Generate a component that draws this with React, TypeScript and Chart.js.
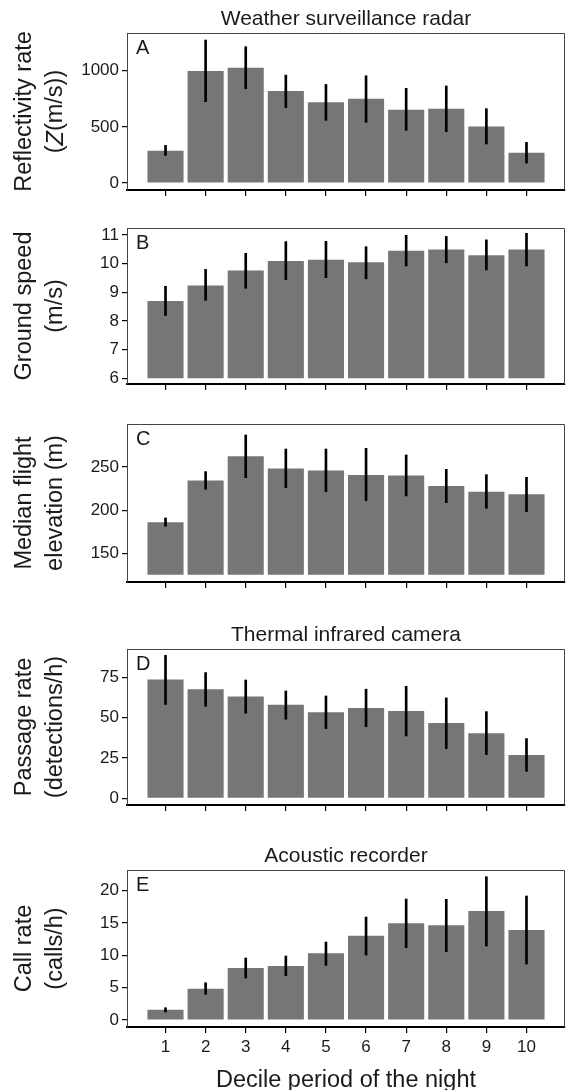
import React, { useEffect, useRef } from 'react';
import { Chart, registerables } from 'chart.js';

Chart.register(...registerables);

// ---------------- data ----------------
const deciles = [1, 2, 3, 4, 5, 6, 7, 8, 9, 10];

const reflectivity = [288, 997, 1027, 819, 718, 751, 653, 662, 504, 270];
const reflectivityLow = [246, 724, 840, 671, 558, 540, 469, 457, 347, 178];
const reflectivityHigh = [335, 1273, 1214, 961, 878, 955, 843, 864, 662, 362];
const reflectivityTicks = [0, 500, 1000];
const reflectivityBase = 0;

const groundSpeed = [8.7, 9.24, 9.76, 10.09, 10.14, 10.05, 10.45, 10.49, 10.29, 10.49];
const groundSpeedLow = [8.19, 8.72, 9.14, 9.44, 9.51, 9.47, 9.92, 10.03, 9.78, 9.92];
const groundSpeedHigh = [9.21, 9.8, 10.36, 10.77, 10.78, 10.59, 10.99, 10.95, 10.83, 11.06];
const groundSpeedTicks = [6, 7, 8, 9, 10, 11];
const groundSpeedBase = 6;

const elevation = [185.9, 234.2, 262.4, 248.1, 245.8, 240.7, 240.0, 228.0, 221.4, 218.3];
const elevationLow = [181.3, 224.1, 237.6, 226.1, 221.4, 211.0, 216.4, 208.7, 202.1, 198.3];
const elevationHigh = [190.9, 244.6, 287.1, 270.8, 270.8, 271.6, 263.9, 247.3, 241.1, 238.0];
const elevationTicks = [150, 200, 250];
const elevationBase = 125;

const passage = [73.6, 67.6, 63.0, 57.9, 53.3, 56.0, 54.1, 46.7, 40.3, 26.9];
const passageLow = [58.1, 57.0, 52.7, 49.0, 43.2, 44.4, 38.6, 30.8, 27.1, 16.7];
const passageHigh = [88.6, 77.9, 73.3, 66.5, 63.4, 67.6, 69.4, 62.2, 53.7, 37.0];
const passageTicks = [0, 25, 50, 75];
const passageBase = 0;

const callRate = [1.6, 4.85, 8.04, 8.35, 10.31, 13.04, 14.95, 14.64, 16.86, 13.92];
const callRateLow = [1.24, 3.97, 6.49, 6.86, 8.45, 10.05, 11.19, 10.57, 11.44, 8.66];
const callRateHigh = [1.9, 5.77, 9.59, 9.9, 12.06, 15.93, 18.71, 18.66, 22.16, 19.18];
const callRateTicks = [0, 5, 10, 15, 20];
const callRateBase = 0;

const xAxisTitle = 'Decile period of the night';

// ---------------- layout / style ----------------
const W = 566;
const H = 1090;
const FONT = '"Liberation Sans", Arial, Helvetica, sans-serif';
const PLOT_LEFT = 127;
const X_MIN = 0.04;
const X_MAX = 10.96;
const X_AXIS_H = 30;
const BAR_COLOR = '#767676';
const TEXT_COLOR = '#1a1a1a';

type Seg = { text: string; italic?: boolean };

type Panel = {
  letter: string;
  title?: string;
  yTitle: Seg[][];
  values: number[];
  low: number[];
  high: number[];
  base: number;
  ticks: number[];
  top: number;
  bottom: number;
  yMin: number;
  yMax: number;
  xLabels: boolean;
};

const panels: Panel[] = [
  {
    letter: 'A',
    title: 'Weather surveillance radar',
    yTitle: [[{ text: 'Reflectivity rate' }], [{ text: '(' }, { text: 'Z', italic: true }, { text: '(m/s))' }]],
    values: reflectivity, low: reflectivityLow, high: reflectivityHigh, base: reflectivityBase,
    ticks: reflectivityTicks, top: 33, bottom: 190, yMin: -62.3, yMax: 1335.7, xLabels: false,
  },
  {
    letter: 'B',
    yTitle: [[{ text: 'Ground speed' }], [{ text: '(m/s)' }]],
    values: groundSpeed, low: groundSpeedLow, high: groundSpeedHigh, base: groundSpeedBase,
    ticks: groundSpeedTicks, top: 228, bottom: 384, yMin: 5.8, yMax: 11.244, xLabels: false,
  },
  {
    letter: 'C',
    yTitle: [[{ text: 'Median flight' }], [{ text: 'elevation (m)' }]],
    values: elevation, low: elevationLow, high: elevationHigh, base: elevationBase,
    ticks: elevationTicks, top: 424, bottom: 582, yMin: 116.7, yMax: 299.8, xLabels: false,
  },
  {
    letter: 'D',
    title: 'Thermal infrared camera',
    yTitle: [[{ text: 'Passage rate' }], [{ text: '(detections/h)' }]],
    values: passage, low: passageLow, high: passageHigh, base: passageBase,
    ticks: passageTicks, top: 649, bottom: 805, yMin: -4.15, yMax: 92.5, xLabels: false,
  },
  {
    letter: 'E',
    title: 'Acoustic recorder',
    yTitle: [[{ text: 'Call rate' }], [{ text: '(calls/h)' }]],
    values: callRate, low: callRateLow, high: callRateHigh, base: callRateBase,
    ticks: callRateTicks, top: 870, bottom: 1027, yMin: -1.08, yMax: 23.2, xLabels: true,
  },
];

function drawRotatedLine(ctx: CanvasRenderingContext2D, segs: Seg[], cx: number, cy: number, size: number) {
  ctx.save();
  ctx.translate(cx, cy);
  ctx.rotate(-Math.PI / 2);
  const fonts = segs.map((s) => `${s.italic ? 'italic ' : ''}${size}px ${FONT}`);
  let total = 0;
  const widths = segs.map((s, i) => {
    ctx.font = fonts[i];
    const w = ctx.measureText(s.text).width;
    total += w;
    return w;
  });
  let x = -total / 2;
  ctx.textAlign = 'left';
  ctx.textBaseline = 'middle';
  ctx.fillStyle = TEXT_COLOR;
  segs.forEach((s, i) => {
    ctx.font = fonts[i];
    ctx.fillText(s.text, x, 0);
    x += widths[i];
  });
  ctx.restore();
}

function makeDecorPlugin(p: Panel) {
  return {
    id: 'panelDecor',
    afterDraw(chart: any) {
      const ctx: CanvasRenderingContext2D = chart.ctx;
      const { left, right, top, bottom } = chart.chartArea;
      ctx.save();
      // top and right border
      ctx.strokeStyle = '#444';
      ctx.lineWidth = 1;
      ctx.beginPath();
      ctx.moveTo(left, top + 0.5);
      ctx.lineTo(right - 0.5, top + 0.5);
      ctx.lineTo(right - 0.5, bottom);
      ctx.stroke();
      // panel letter
      ctx.fillStyle = TEXT_COLOR;
      ctx.font = `20px ${FONT}`;
      ctx.textAlign = 'left';
      ctx.textBaseline = 'alphabetic';
      ctx.fillText(p.letter, left + 9, top + 21);
      // panel title
      const cx = (left + right) / 2;
      if (p.title) {
        ctx.font = `21px ${FONT}`;
        ctx.textAlign = 'center';
        ctx.fillText(p.title, cx, top - 8.5);
      }
      // x axis title
      if (p.xLabels) {
        ctx.font = `23.5px ${FONT}`;
        ctx.textAlign = 'center';
        ctx.fillText(xAxisTitle, cx, bottom + 60);
      }
      ctx.restore();
      // y axis title (two lines)
      const cy = (top + bottom) / 2;
      const xs = [25, 56];
      p.yTitle.forEach((line, i) => drawRotatedLine(ctx, line, xs[i], cy, 23.5));
    },
  };
}

function makeConfig(p: Panel): any {
  return {
    type: 'bar',
    data: {
      datasets: [
        {
          label: 'error',
          data: deciles.map((x, i) => ({ x, y: [p.low[i], p.high[i]] })),
          backgroundColor: '#000',
          borderWidth: 0,
          grouped: false,
          maxBarThickness: 2,
          barPercentage: 1,
          categoryPercentage: 1,
          order: 0,
        },
        {
          label: 'value',
          data: deciles.map((x, i) => ({ x, y: [p.base, p.values[i]] })),
          backgroundColor: BAR_COLOR,
          borderWidth: 0,
          grouped: false,
          barPercentage: 0.9,
          categoryPercentage: 1,
          order: 1,
        },
      ],
    },
    options: {
      responsive: false,
      animation: false,
      events: [],
      layout: {
        padding: { left: 0, right: 1, top: p.top, bottom: H - p.bottom - X_AXIS_H },
      },
      plugins: { legend: { display: false }, tooltip: { enabled: false }, title: { display: false } },
      scales: {
        x: {
          type: 'linear',
          min: X_MIN,
          max: X_MAX,
          offset: false,
          afterBuildTicks: (s: any) => {
            s.ticks = deciles.map((v) => ({ value: v }));
          },
          afterFit: (s: any) => {
            s.height = X_AXIS_H;
          },
          grid: { offset: false, drawOnChartArea: false, drawTicks: true, tickLength: 6, color: '#000', lineWidth: 1.2 },
          border: { display: true, color: '#000', width: 2 },
          ticks: {
            display: p.xLabels,
            autoSkip: false,
            maxRotation: 0,
            padding: 4,
            color: TEXT_COLOR,
            font: { family: FONT, size: 17 },
            callback: (v: any) => String(v),
          },
        },
        y: {
          type: 'linear',
          min: p.yMin,
          max: p.yMax,
          afterBuildTicks: (s: any) => {
            s.ticks = p.ticks.map((v) => ({ value: v }));
          },
          afterFit: (s: any) => {
            s.width = PLOT_LEFT;
          },
          grid: { offset: false, drawOnChartArea: false, drawTicks: true, tickLength: 5, color: '#000', lineWidth: 1.2 },
          border: { display: true, color: '#444', width: 1 },
          ticks: {
            padding: 3,
            color: TEXT_COLOR,
            font: { family: FONT, size: 17 },
            callback: (v: any) => String(v),
          },
        },
      },
    },
    plugins: [makeDecorPlugin(p)],
  };
}

function PanelChart({ panel }: { panel: Panel }) {
  const ref = useRef<HTMLCanvasElement>(null);
  useEffect(() => {
    if (!ref.current) return;
    const chart = new Chart(ref.current, makeConfig(panel));
    return () => chart.destroy();
  }, [panel]);
  return (
    <canvas
      ref={ref}
      width={W}
      height={H}
      style={{ position: 'absolute', left: 0, top: 0, width: W, height: H }}
    />
  );
}

export default function App() {
  return (
    <div style={{ position: 'absolute', left: 0, top: 0, width: W, height: H, background: '#fff', overflow: 'hidden' }}>
      {panels.map((p) => (
        <PanelChart key={p.letter} panel={p} />
      ))}
    </div>
  );
}
